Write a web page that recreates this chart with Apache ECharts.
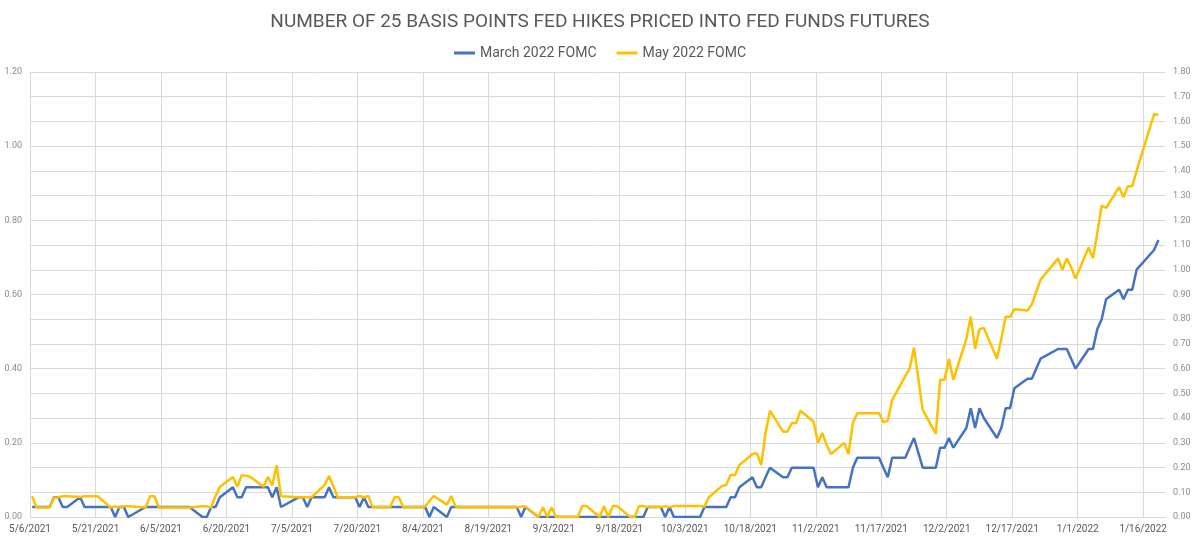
<!DOCTYPE html>
<html lang="en" style="height: 100%">

<head>
    <meta charset="utf-8">
    <script type="text/javascript" src="https://cdn.jsdelivr.net/npm/echarts@6/dist/echarts.min.js"></script>
</head>

<body style="height: 100%; margin: 0; background: #fff">
    <div id="container" style="width: 1200px; height: 542px"></div>
    <script type="text/javascript">
        // trading days (M/D/YYYY)
        var dates = [
            '5/6/2021', '5/7/2021', '5/10/2021', '5/11/2021', '5/12/2021', '5/13/2021', '5/14/2021', '5/17/2021', '5/18/2021',
            '5/19/2021', '5/20/2021', '5/21/2021', '5/24/2021', '5/25/2021', '5/26/2021', '5/27/2021', '5/28/2021',
            '6/1/2021', '6/2/2021', '6/3/2021', '6/4/2021', '6/7/2021', '6/8/2021', '6/9/2021', '6/10/2021', '6/11/2021',
            '6/14/2021', '6/15/2021', '6/16/2021', '6/17/2021', '6/18/2021', '6/21/2021', '6/22/2021', '6/23/2021',
            '6/24/2021', '6/25/2021', '6/28/2021', '6/29/2021', '6/30/2021',
            '7/1/2021', '7/2/2021', '7/6/2021', '7/7/2021', '7/8/2021', '7/9/2021', '7/12/2021', '7/13/2021', '7/14/2021',
            '7/15/2021', '7/16/2021', '7/19/2021', '7/20/2021', '7/21/2021', '7/22/2021', '7/23/2021', '7/26/2021',
            '7/27/2021', '7/28/2021', '7/29/2021', '7/30/2021',
            '8/2/2021', '8/3/2021', '8/4/2021', '8/5/2021', '8/6/2021', '8/9/2021', '8/10/2021', '8/11/2021', '8/12/2021',
            '8/13/2021', '8/16/2021', '8/17/2021', '8/18/2021', '8/19/2021', '8/20/2021', '8/23/2021', '8/24/2021',
            '8/25/2021', '8/26/2021', '8/27/2021', '8/30/2021', '8/31/2021',
            '9/1/2021', '9/2/2021', '9/3/2021', '9/7/2021', '9/8/2021', '9/9/2021', '9/10/2021', '9/13/2021', '9/14/2021',
            '9/15/2021', '9/16/2021', '9/17/2021', '9/20/2021', '9/21/2021', '9/22/2021', '9/23/2021', '9/24/2021',
            '9/27/2021', '9/28/2021', '9/29/2021', '9/30/2021',
            '10/1/2021', '10/4/2021', '10/5/2021', '10/6/2021', '10/7/2021', '10/8/2021', '10/11/2021', '10/12/2021',
            '10/13/2021', '10/14/2021', '10/15/2021', '10/18/2021', '10/19/2021', '10/20/2021', '10/21/2021', '10/22/2021',
            '10/25/2021', '10/26/2021', '10/27/2021', '10/28/2021', '10/29/2021',
            '11/1/2021', '11/2/2021', '11/3/2021', '11/4/2021', '11/5/2021', '11/8/2021', '11/9/2021', '11/10/2021',
            '11/11/2021', '11/12/2021', '11/15/2021', '11/16/2021', '11/17/2021', '11/18/2021', '11/19/2021', '11/22/2021',
            '11/23/2021', '11/24/2021', '11/26/2021', '11/29/2021', '11/30/2021',
            '12/1/2021', '12/2/2021', '12/3/2021', '12/6/2021', '12/7/2021', '12/8/2021', '12/9/2021', '12/10/2021',
            '12/13/2021', '12/14/2021', '12/15/2021', '12/16/2021', '12/17/2021', '12/20/2021', '12/21/2021', '12/22/2021',
            '12/23/2021', '12/27/2021', '12/28/2021', '12/29/2021', '12/30/2021', '12/31/2021',
            '1/3/2022', '1/4/2022', '1/5/2022', '1/6/2022', '1/7/2022', '1/10/2022', '1/11/2022', '1/12/2022', '1/13/2022',
            '1/14/2022', '1/18/2022', '1/19/2022'
        ];

        // March 2022 FOMC (left axis)
        var march2022 = [
            .027, .027, .027, .053, .053, .027, .027, .053, .027, .027, .027, .027, .027, 0, .027, .027, 0,
            .027, .027, .027, .027, .027, .027, .027, .027, .027, 0, 0, .027, .027, .053, .08, .053, .053, .08, .08, .08, .08, .053,
            .08, .027, .053, .053, .027, .053, .053, .08, .053, .053, .053, .053, .027, .053, .027, .027, .027, .027, .027, .027, .027,
            .027, .027, .027, 0, .027, 0, .027, .027, .027, .027, .027, .027, .027, .027, .027, .027, .027, .027, 0, .027, 0, 0,
            0, 0, 0, 0, 0, 0, 0, 0, 0, 0, 0, 0, 0, 0, 0, 0, .027, .027, 0, .027, 0,
            0, 0, 0, 0, .027, .027, .027, .027, .053, .053, .08, .107, .08, .08, .107, .133, .107, .107, .133, .133, .133,
            .133, .08, .107, .08, .08, .08, .08, .133, .16, .16, .16, .16, .133, .107, .16, .16, .187, .213, .133, .133, .187,
            .187, .213, .187, .24, .293, .24, .293, .267, .213, .24, .293, .293, .347, .373, .373, .4, .427, .453, .453, .453, .427, .4,
            .453, .453, .507, .533, .587, .613, .587, .613, .613, .667, .72, .747
        ];

        // May 2022 FOMC (right axis)
        var may2022 = [
            .084, .038, .038, .078, .08, .084, .084, .081, .084, .084, .084, .084, .038, .043, .038, .043, .043,
            .038, .084, .084, .038, .038, .038, .038, .038, .038, .043, .043, .038, .085, .122, .162, .122, .169, .167, .162, .122, .162, .128,
            .209, .084, .08, .08, .08, .08, .13, .166, .123, .08, .08, .08, .085, .08, .085, .039, .039, .039, .08, .08, .039,
            .039, .039, .042, .065, .085, .05, .085, .042, .039, .039, .039, .039, .039, .039, .039, .039, .039, .039, .042, .042, 0, .039,
            0, .039, 0, 0, 0, .044, .044, 0, .044, 0, .044, .044, 0, 0, .044, .044, .04, .04, .044, .04, .044,
            .044, .044, .044, .044, .042, .08, .125, .13, .17, .17, .21, .255, .258, .21, .34, .43, .345, .345, .38, .38, .43,
            .385, .30, .34, .29, .255, .30, .255, .38, .42, .42, .42, .42, .383, .39, .473, .57, .60, .685, .433, .336, .555,
            .555, .639, .555, .72, .81, .68, .76, .765, .64, .72, .81, .81, .84, .835, .86, .91, .96, 1.046, 1.0, 1.046, 1.01, .965,
            1.09, 1.046, 1.15, 1.26, 1.25, 1.334, 1.293, 1.338, 1.338, 1.40, 1.63, 1.625
        ];

        var DAY = 86400000;
        var start = Date.UTC(2021, 4, 6);
        function toDay(s) {
            var p = s.split('/');
            return (Date.UTC(+p[2], +p[0] - 1, +p[1]) - start) / DAY + 0.5;
        }
        function dayLabel(v) {
            if (v % 15 !== 0) return '';
            var d = new Date(start + v * DAY);
            return (d.getUTCMonth() + 1) + '/' + d.getUTCDate() + '/' + d.getUTCFullYear();
        }

        var chart = echarts.init(document.getElementById('container'), null, { renderer: 'canvas' });
        var option = {
            backgroundColor: '#fff',
            animation: false,
            textStyle: { fontFamily: 'Roboto' },
            title: {
                text: 'NUMBER OF 25 BASIS POINTS FED HIKES PRICED INTO FED FUNDS FUTURES',
                left: 'center',
                top: 8,
                textStyle: { fontFamily: 'Roboto', fontSize: 19, fontWeight: 'normal', color: '#595959' }
            },
            legend: {
                top: 41,
                left: 'center',
                icon: 'rect',
                itemWidth: 21,
                itemHeight: 3,
                itemGap: 20,
                textStyle: { fontSize: 14, color: '#595959' },
                data: ['March 2022 FOMC', 'May 2022 FOMC']
            },
            grid: { left: 30, right: 35, top: 72, bottom: 25 },
            xAxis: {
                type: 'value',
                min: 0,
                max: 260,
                interval: 15,
                axisLine: { show: true, lineStyle: { color: '#d9d9d9' } },
                axisTick: { show: false },
                axisLabel: { formatter: dayLabel, fontSize: 10, color: '#595959', margin: 7, showMaxLabel: false },
                splitLine: { show: true, showMaxLine: false, lineStyle: { color: '#d9d9d9' } }
            },
            yAxis: [
                {
                    type: 'value',
                    position: 'left',
                    min: 0,
                    max: 1.2,
                    interval: 0.2,
                    axisLine: { show: false },
                    axisTick: { show: false },
                    splitLine: { show: false },
                    axisLabel: { formatter: function (v) { return v.toFixed(2); }, fontSize: 9, color: '#8c8c8c', margin: 8 }
                },
                {
                    type: 'value',
                    position: 'right',
                    min: 0,
                    max: 1.8,
                    interval: 0.1,
                    axisLine: { show: false },
                    axisTick: { show: false },
                    splitLine: { show: true, lineStyle: { color: '#d9d9d9' } },
                    axisLabel: { formatter: function (v) { return v.toFixed(2); }, fontSize: 9, color: '#8c8c8c', margin: 8 }
                }
            ],
            series: [
                {
                    name: 'March 2022 FOMC',
                    type: 'line',
                    yAxisIndex: 0,
                    showSymbol: false,
                    color: '#4472C4',
                    lineStyle: { width: 2.5, color: '#4472C4' },
                    data: dates.map(function (d, i) { return [toDay(d), march2022[i]]; })
                },
                {
                    name: 'May 2022 FOMC',
                    type: 'line',
                    yAxisIndex: 1,
                    showSymbol: false,
                    color: '#FFC000',
                    lineStyle: { width: 2.5, color: '#FFC000' },
                    data: dates.map(function (d, i) { return [toDay(d), may2022[i]]; })
                }
            ]
        };
        chart.setOption(option);
    </script>
</body>

</html>
